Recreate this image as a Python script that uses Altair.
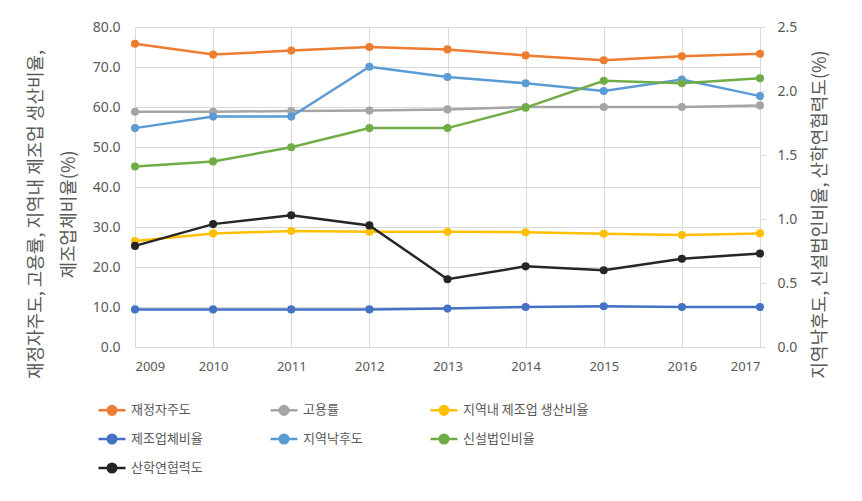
import altair as alt
import pandas as pd

years = [2009, 2010, 2011, 2012, 2013, 2014, 2015, 2016, 2017]

# left-axis series (%)
fiscal = [75.8, 73.1, 74.1, 75.0, 74.4, 72.9, 71.7, 72.7, 73.3]
employment = [58.8, 58.8, 59.0, 59.1, 59.4, 60.0, 60.0, 60.0, 60.4]
mfg_prod = [26.5, 28.4, 29.0, 28.8, 28.8, 28.7, 28.3, 28.0, 28.4]
mfg_firm = [9.4, 9.4, 9.4, 9.4, 9.6, 10.0, 10.2, 10.0, 10.0]

# right-axis series (%)
lag = [1.71, 1.80, 1.80, 2.19, 2.11, 2.06, 2.00, 2.09, 1.96]
newcorp = [1.41, 1.45, 1.56, 1.71, 1.71, 1.87, 2.08, 2.06, 2.10]
coop = [0.79, 0.96, 1.03, 0.95, 0.53, 0.63, 0.60, 0.69, 0.73]

names = ["재정자주도", "고용률", "지역내 제조업 생산비율", "제조업체비율",
         "지역낙후도", "신설법인비율", "산학연협력도"]
colors = ["#ED7D31", "#A5A5A5", "#FFC000", "#4472C4",
          "#5B9BD5", "#70AD47", "#262626"]

left_series = {names[0]: fiscal, names[1]: employment, names[2]: mfg_prod, names[3]: mfg_firm}
right_series = {names[4]: lag, names[5]: newcorp, names[6]: coop}

def long(d):
    rows = []
    for k, vals in d.items():
        for y, v in zip(years, vals):
            rows.append({"year": y, "series": k, "value": v, "order": names.index(k)})
    return pd.DataFrame(rows)

left_df = long(left_series)
right_df = long(right_series)

TXT = "#595959"
GRID = "#D9D9D9"
KFONT = "Noto Sans CJK KR"
NFONT = "Noto Sans"

sym = "M-1,0L1,0M0.32,0A0.32,0.32,0,1,1,-0.32,0A0.32,0.32,0,1,1,0.32,0Z"

color = alt.Color(
    "series:N",
    scale=alt.Scale(domain=names, range=colors),
    sort=names,
    legend=alt.Legend(
        orient="none", legendX=-38, legendY=368, direction="horizontal",
        columns=3, title=None, symbolType=sym, symbolSize=729,
        symbolStrokeWidth=2.5,
        labelFont=KFONT, labelFontSize=13, labelColor=TXT, labelOffset=4,
        columnPadding=62, rowPadding=4, labelLimit=300,
    ),
)

x = alt.X(
    "year:Q",
    scale=alt.Scale(domain=[2009, 2017], nice=False, zero=False),
    axis=alt.Axis(
        values=years, format="d", title=None, grid=True, gridColor=GRID,
        ticks=False, domain=True, domainColor=GRID, labelFont=NFONT,
        labelFontSize=13, labelColor=TXT, labelPadding=13,
    ),
)

left = alt.Chart(left_df).mark_line(
    strokeWidth=2.5, point=alt.OverlayMarkDef(filled=True, size=65)
).encode(
    x=x,
    y=alt.Y(
        "value:Q",
        scale=alt.Scale(domain=[0, 80], nice=False),
        axis=alt.Axis(
            orient="left", values=list(range(0, 81, 10)), format=".1f",
            title=["재정자주도, 고용률, 지역내 제조업 생산비율,", "제조업체비율(%)"],
            titleFont=KFONT, titleFontSize=18, titleFontWeight="normal", titleColor=TXT,
            titleAngle=270, titleBaseline="middle", titleAlign="center",
            titleX=-99, titleY=187, titleLineHeight=33,
            grid=True, gridColor=GRID, ticks=False, domain=False,
            labelFont=NFONT, labelFontSize=14, labelColor=TXT, labelPadding=15,
        ),
    ),
    color=color,
    order="order:Q",
)

right = alt.Chart(right_df).mark_line(
    strokeWidth=2.5, point=alt.OverlayMarkDef(filled=True, size=65)
).encode(
    x=x,
    y=alt.Y(
        "value:Q",
        scale=alt.Scale(domain=[0, 2.5], nice=False),
        axis=alt.Axis(
            orient="right", values=[0, 0.5, 1.0, 1.5, 2.0, 2.5], format=".1f",
            title="지역낙후도, 신설법인비율, 산학연협력도(%)",
            titleFont=KFONT, titleFontSize=18, titleFontWeight="normal", titleColor=TXT,
            titleAngle=270, titleBaseline="middle", titleAlign="center",
            titleX=60, titleY=187,
            grid=False, ticks=True, tickSize=5, tickColor=GRID,
            domain=True, domainColor=GRID,
            labelFont=NFONT, labelFontSize=14, labelColor=TXT, labelPadding=12,
        ),
    ),
    color=color,
    order="order:Q",
)

chart = alt.layer(left, right).resolve_scale(y="independent").properties(
    width=625, height=320,
    autosize=alt.AutoSizeParams(type="none"),
    padding={"left": 127, "top": 19, "right": 90, "bottom": 138},
).configure_view(stroke=None).configure(background="#ffffff")

chart.save("out.html", embed_options={"renderer": "svg", "actions": False})
